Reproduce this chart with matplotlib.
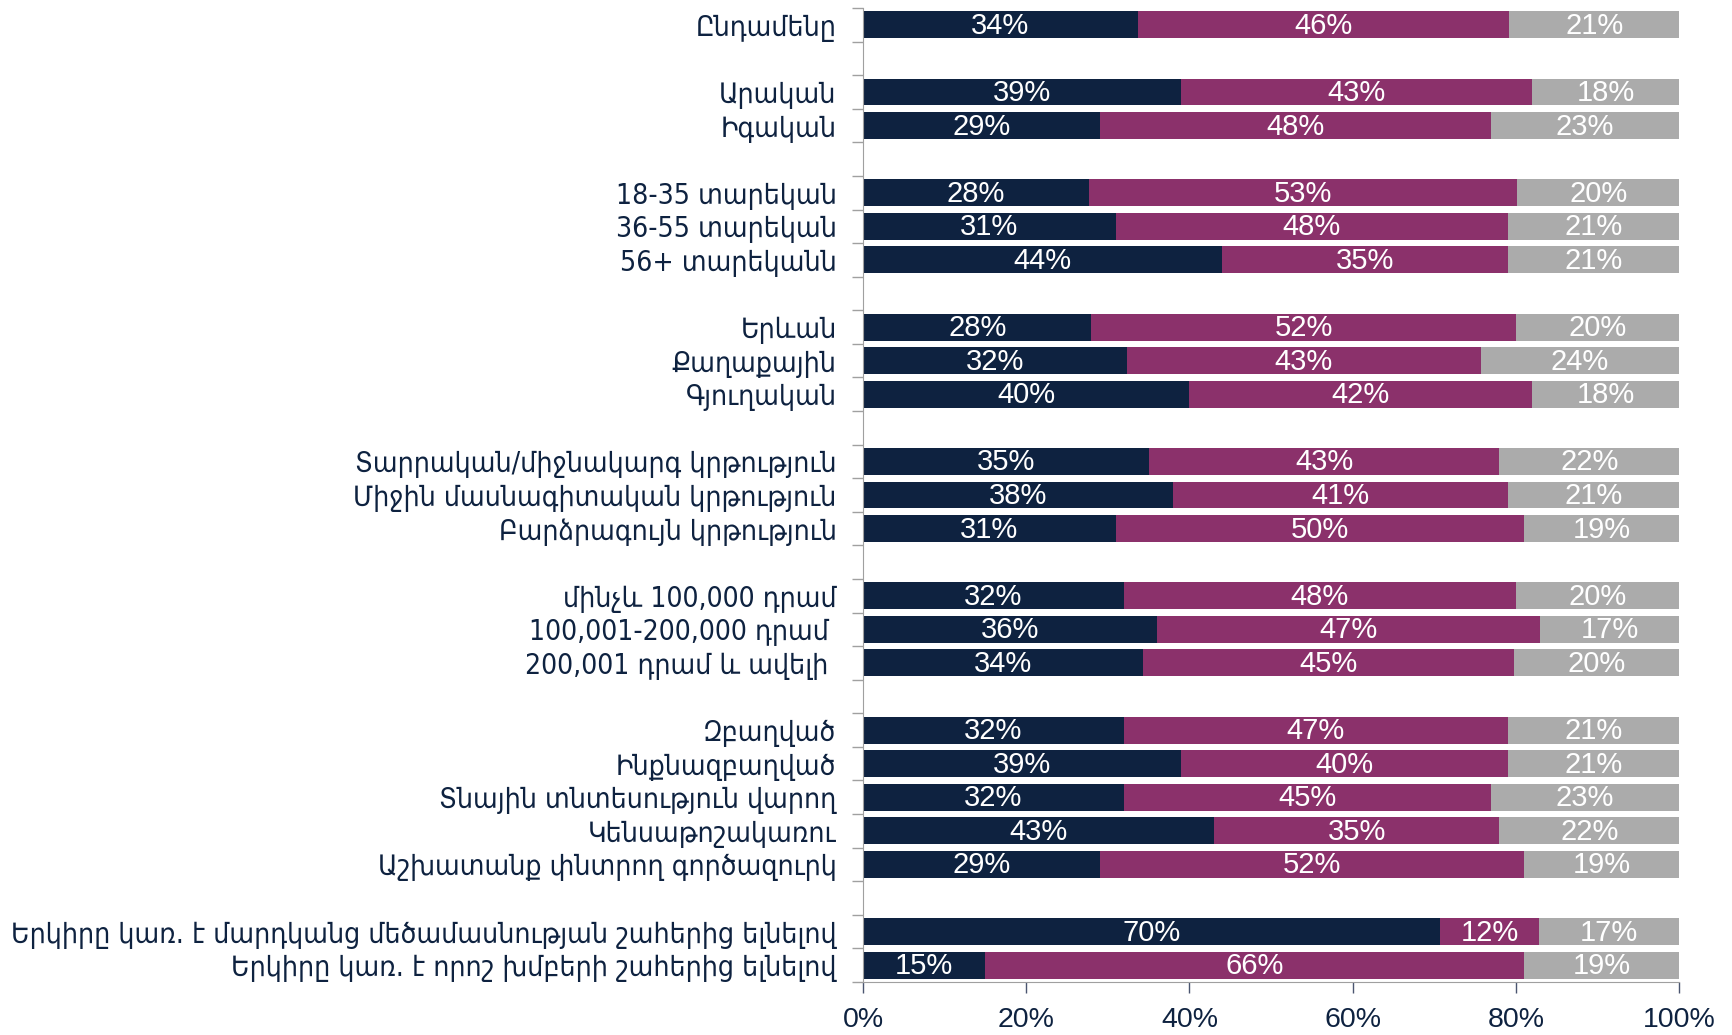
import numpy as np
import matplotlib.pyplot as plt
from matplotlib.ticker import FixedLocator, PercentFormatter

# categories top to bottom, None marks an empty gap row
categories = ['Ընդամենը', None,
              'Արական', 'Իգական', None,
              '18-35 տարեկան', '36-55 տարեկան', '56+ տարեկանն', None,
              'Երևան', 'Քաղաքային', 'Գյուղական', None,
              'Տարրական/միջնակարգ կրթություն', 'Միջին մասնագիտական կրթություն',
              'Բարձրագույն կրթություն', None,
              'մինչև 100,000 դրամ', '100,001-200,000 դրամ ', '200,001 դրամ և ավելի ', None,
              'Զբաղված', 'Ինքնազբաղված', 'Տնային տնտեսություն վարող', 'Կենսաթոշակառու',
              'Աշխատանք փնտրող գործազուրկ', None,
              'Երկիրը կառ. է մարդկանց մեծամասնության շահերից ելնելով',
              'Երկիրը կառ. է որոշ խմբերի շահերից ելնելով']

s1 = [34, None, 39, 29, None, 28, 31, 44, None, 28, 32, 40, None, 35, 38, 31, None,
      32, 36, 34, None, 32, 39, 32, 43, 29, None, 70, 15]
s2 = [46, None, 43, 48, None, 53, 48, 35, None, 52, 43, 42, None, 43, 41, 50, None,
      48, 47, 45, None, 47, 40, 45, 35, 52, None, 12, 66]
s3 = [21, None, 18, 23, None, 20, 21, 21, None, 20, 24, 18, None, 22, 21, 19, None,
      20, 17, 20, None, 21, 21, 23, 22, 19, None, 17, 19]

colors = ['#0E2240', '#8B316B', '#ABABAB']
txtcol = '#0E2240'
numfont = ['Liberation Sans', 'DejaVu Sans']

plt.rcParams['font.family'] = ['DejaVu Sans']

fig = plt.figure(figsize=(17.33, 10.35), dpi=100)
ax = fig.add_axes([863 / 1733, 1 - 982 / 1035, (1679 - 863) / 1733, 974 / 1035])

for i, lab in enumerate(categories):
    if lab is None:
        continue
    vals = np.array([s1[i], s2[i], s3[i]], dtype=float)
    widths = vals / vals.sum() * 100
    left = 0
    for w, v, c in zip(widths, vals, colors):
        ax.barh(i, w, left=left, height=0.8, color=c)
        ax.text(left + w / 2, i + 0.03, '%d%%' % v, ha='center', va='center',
                color='white', fontsize=21, family=numfont)
        left += w

ax.set_xlim(0, 100)
ax.set_ylim(len(categories) - 0.5, -0.5)

labpos = [i for i, l in enumerate(categories) if l is not None]
ax.set_yticks(labpos)
ax.set_yticklabels([categories[i] for i in labpos], fontsize=20.3, color=txtcol,
                   fontstretch='condensed')
ax.tick_params(axis='y', which='major', length=0, pad=19)
ax.yaxis.set_minor_locator(FixedLocator(np.arange(-0.5, len(categories), 1)))
ax.tick_params(axis='y', which='minor', length=8, color='#A0A0A0', width=1)

ax.set_xticks(np.arange(0, 101, 20))
ax.xaxis.set_major_formatter(PercentFormatter(decimals=0))
ax.tick_params(axis='x', length=8, color='#4A5570', width=1, labelsize=20.5,
               labelcolor=txtcol, pad=10)
for t in ax.get_xticklabels():
    t.set_family(numfont)

for sp in ['top', 'right']:
    ax.spines[sp].set_visible(False)
ax.spines['left'].set_color('#A0A0A0')
ax.spines['bottom'].set_color('#A0A0A0')

fig.savefig('out.png', dpi=100)
